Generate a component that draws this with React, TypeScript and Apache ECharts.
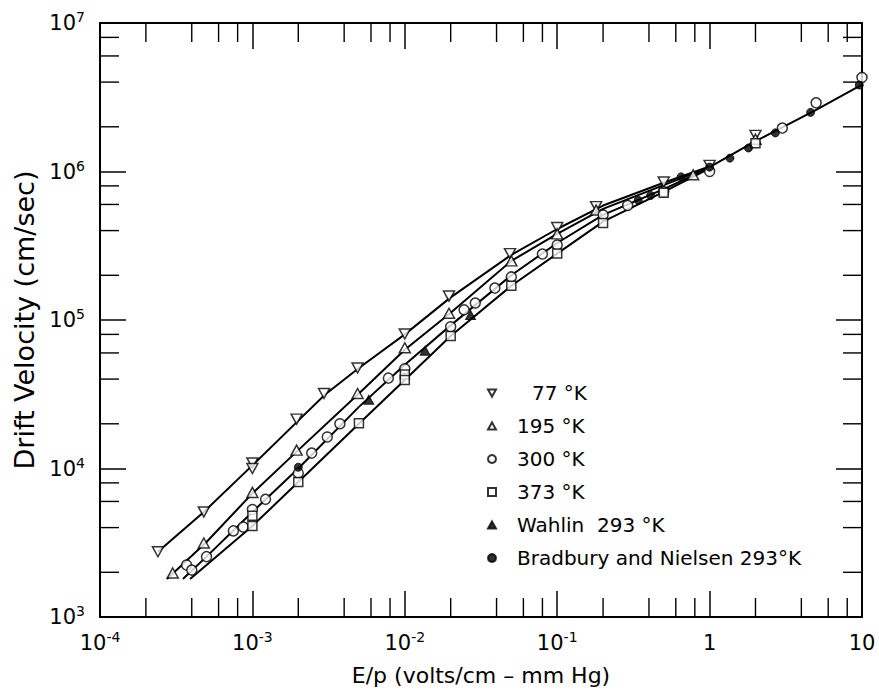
import React, { useEffect, useRef } from 'react';
import * as echarts from 'echarts';

// Axis ranges
const X_MIN = 1e-4;
const X_MAX = 10;
const Y_MIN = 1e3;
const Y_MAX = 1e7;
const xMinorDecades = [-4, -3, -2, -1, 0];
const yMinorDecades = [3, 4, 5, 6];
const minorMantissas = [2, 4, 6, 8];

// Legend / series names
const names = ['77 °K', '195 °K', '300 °K', '373 °K', 'Wahlin  293 °K', 'Bradbury and Nielsen 293°K'];

// Measured points [E/p, drift velocity]
const pts77 = [
  [2.4e-4, 2.75e3], [4.8e-4, 5.1e3], [1e-3, 1.09e4], [1e-3, 1.0e4], [1.95e-3, 2.15e4],
  [2.95e-3, 3.2e4], [4.9e-3, 4.75e4], [1e-2, 8.05e4], [1.95e-2, 1.45e5], [4.9e-2, 2.8e5],
  [0.1, 4.2e5], [0.18, 5.8e5], [0.5, 8.5e5], [1, 1.1e6], [2, 1.75e6],
];
const pts195 = [
  [3e-4, 1.98e3], [4.8e-4, 3.15e3], [1e-3, 6.9e3], [1.95e-3, 1.33e4], [4.9e-3, 3.2e4],
  [1e-2, 6.5e4], [1.95e-2, 1.11e5], [5e-2, 2.5e5], [0.1, 3.8e5], [0.18, 5.5e5],
  [0.78, 9.5e5], [2, 1.65e6],
];
const pts300 = [
  [3.7e-4, 2.24e3], [4e-4, 2.07e3], [5e-4, 2.55e3], [7.5e-4, 3.8e3], [8.7e-4, 4.04e3],
  [1e-3, 5.3e3], [1.22e-3, 6.2e3], [2e-3, 9.3e3], [2.45e-3, 1.27e4], [3.1e-3, 1.63e4],
  [3.75e-3, 2.0e4], [7.8e-3, 4.06e4], [1e-2, 4.7e4], [2e-2, 9.0e4], [2.45e-2, 1.17e5],
  [2.9e-2, 1.3e5], [3.9e-2, 1.64e5], [5e-2, 1.95e5], [8e-2, 2.78e5], [0.1, 3.2e5],
  [0.2, 5.1e5], [0.29, 5.9e5], [0.5, 7.3e5], [1, 1.0e6], [3, 1.96e6], [5, 2.9e6], [10, 4.3e6],
];
const pts373 = [
  [1e-3, 4.8e3], [1e-3, 4.1e3], [2e-3, 8.1e3], [5e-3, 2.02e4], [1e-2, 4.3e4], [1e-2, 3.95e4],
  [2e-2, 7.8e4], [5e-2, 1.7e5], [0.1, 2.8e5], [0.2, 4.5e5], [0.5, 7.2e5], [2, 1.55e6],
];
const ptsWahlin = [
  [5.8e-3, 2.9e4], [1.36e-2, 6.2e4], [2.7e-2, 1.08e5],
];
const ptsBradbury = [
  [2e-3, 1.02e4], [0.34, 6.4e5], [0.41, 6.9e5], [0.65, 9.2e5], [1, 1.07e6], [1.36, 1.23e6],
  [1.8, 1.44e6], [2.7, 1.82e6], [4.6, 2.5e6], [9.6, 3.82e6],
];

// Drawn curves through the data
const curve77 = [
  [2.4e-4, 2.75e3], [4.8e-4, 5.1e3], [1e-3, 1.05e4], [2e-3, 2.1e4], [3e-3, 3.15e4], [5e-3, 4.75e4],
  [1e-2, 8.0e4], [2e-2, 1.42e5], [5e-2, 2.75e5], [0.1, 4.1e5], [0.2, 5.9e5], [0.5, 8.4e5], [1, 1.08e6],
];
const curve195 = [
  [2.75e-4, 1.8e3], [5e-4, 3.2e3], [1e-3, 6.8e3], [2e-3, 1.33e4], [5e-3, 3.2e4], [1e-2, 6.3e4],
  [2e-2, 1.12e5], [5e-2, 2.5e5], [0.1, 3.8e5], [0.2, 5.6e5], [0.5, 8.1e5], [1, 1.07e6],
];
const curve300 = [
  [3.5e-4, 1.8e3], [5e-4, 2.55e3], [1e-3, 5.1e3], [2e-3, 1.0e4], [5e-3, 2.6e4], [1e-2, 5.0e4],
  [2e-2, 9.2e4], [5e-2, 2.0e5], [0.1, 3.3e5], [0.2, 5.1e5], [0.5, 7.6e5], [1, 1.06e6],
];
const curve373 = [
  [3.9e-4, 1.8e3], [1e-3, 4.1e3], [2e-3, 8.1e3], [5e-3, 2.0e4], [1e-2, 3.95e4], [2e-2, 7.8e4],
  [5e-2, 1.7e5], [0.1, 2.8e5], [0.2, 4.6e5], [0.5, 7.3e5], [1, 1.05e6],
];
const curveHigh = [
  [1, 1.07e6], [2, 1.6e6], [5, 2.6e6], [10, 3.85e6],
];

const FONT = 'DejaVu Sans';
const INK = '#000';
const MAJOR_LEN = 26;
const MINOR_LEN = 19;

const downTri = 'path://M0,0 L10,0 L5,9 Z';
const upTri = 'path://M5,0 L10,9 L0,9 Z';

function powLabel(v: number) {
  const e = Math.round(Math.log10(v));
  if (e === 0) return '{b|1}';
  if (e === 1) return '{b|10}';
  return `{b|10}{s|${e}}`;
}

const labelRich = {
  b: { fontSize: 21, lineHeight: 26, fontFamily: FONT, color: INK },
  s: { fontSize: 14, lineHeight: 16, verticalAlign: 'top', fontFamily: FONT, color: INK },
};

function axisBase() {
  return {
    type: 'log',
    logBase: 10,
    axisLine: { show: true, lineStyle: { color: INK, width: 2 } },
    axisTick: { show: true, inside: true, length: MAJOR_LEN, lineStyle: { color: INK, width: 1.5 } },
    splitLine: { show: false },
    minorTick: { show: false },
  };
}

export default function App() {
  const ref = useRef<HTMLDivElement>(null);
  useEffect(() => {
    const chart = echarts.init(ref.current!, null, { renderer: 'svg' });

    const minorX: number[] = [];
    xMinorDecades.forEach((d) => minorMantissas.forEach((m) => minorX.push(m * Math.pow(10, d))));
    const minorY: number[] = [];
    yMinorDecades.forEach((d) => minorMantissas.forEach((m) => minorY.push(m * Math.pow(10, d))));

    const openStyle = { color: '#fff', borderColor: INK, borderWidth: 1.5 };
    const filledStyle = { color: INK, borderColor: INK, borderWidth: 1 };

    const lineSeries = (data: number[][]) => ({
      type: 'line',
      data,
      symbol: 'none',
      showSymbol: false,
      silent: true,
      z: 3,
      lineStyle: { color: INK, width: 2 },
    });

    const option: any = {
      animation: false,
      backgroundColor: '#fff',
      grid: { left: 100, right: 17, top: 23, bottom: 79, containLabel: false },
      legend: {
        show: true,
        orient: 'vertical',
        left: 482,
        top: 378,
        itemWidth: 8,
        itemHeight: 8,
        itemGap: 13,
        data: names,
        selectedMode: false,
        formatter: (name: string) => (name === '77 °K' ? `{a|${name}}` : `{t|${name}}`),
        textStyle: {
          fontFamily: FONT,
          fontSize: 20,
          color: INK,
          lineHeight: 20,
          rich: {
            a: { fontFamily: FONT, fontSize: 20, color: INK, padding: [0, 0, 0, 31], lineHeight: 20 },
            t: { fontFamily: FONT, fontSize: 20, color: INK, padding: [0, 0, 0, 16], lineHeight: 20 },
          },
        },
      },
      xAxis: [
        {
          ...axisBase(),
          position: 'bottom',
          min: X_MIN,
          max: X_MAX,
          name: 'E/p (volts/cm – mm Hg)',
          nameLocation: 'middle',
          nameGap: 47,
          nameTextStyle: { fontFamily: FONT, fontSize: 22, color: INK },
          axisLabel: {
            show: true,
            margin: 13,
            formatter: powLabel,
            rich: labelRich,
            showMinLabel: true,
            showMaxLabel: true,
          },
        },
        {
          ...axisBase(),
          position: 'top',
          min: X_MIN,
          max: X_MAX,
          axisLabel: { show: false },
        },
      ],
      yAxis: [
        {
          ...axisBase(),
          position: 'left',
          min: Y_MIN,
          max: Y_MAX,
          name: 'Drift Velocity (cm/sec)',
          nameLocation: 'middle',
          nameGap: 57,
          nameTextStyle: { fontFamily: FONT, fontSize: 27, color: INK },
          axisLabel: {
            show: true,
            margin: 15,
            formatter: powLabel,
            rich: labelRich,
            showMinLabel: true,
            showMaxLabel: true,
          },
        },
        {
          ...axisBase(),
          position: 'right',
          min: Y_MIN,
          max: Y_MAX,
          axisLabel: { show: false },
        },
      ],
      series: [
        lineSeries(curve77),
        lineSeries(curve195),
        lineSeries(curve300),
        lineSeries(curve373),
        lineSeries(curveHigh),
        {
          name: names[0], type: 'scatter', data: pts77, symbol: downTri, symbolSize: [11, 10],
          itemStyle: openStyle, z: 5, silent: true,
        },
        {
          name: names[1], type: 'scatter', data: pts195, symbol: upTri, symbolSize: [11, 10],
          itemStyle: openStyle, z: 5, silent: true,
        },
        {
          name: names[2], type: 'scatter', data: pts300, symbol: 'circle', symbolSize: 10,
          itemStyle: openStyle, z: 5, silent: true,
        },
        {
          name: names[3], type: 'scatter', data: pts373, symbol: 'rect', symbolSize: 9,
          itemStyle: openStyle, z: 5, silent: true,
        },
        {
          name: names[4], type: 'scatter', data: ptsWahlin, symbol: upTri, symbolSize: [10, 9],
          itemStyle: filledStyle, z: 6, silent: true,
        },
        {
          name: names[5], type: 'scatter', data: ptsBradbury, symbol: 'circle', symbolSize: 8,
          itemStyle: filledStyle, z: 6, silent: true,
        },
        {
          type: 'custom',
          silent: true,
          z: 7,
          clip: false,
          data: minorX.map((v) => [v, Y_MIN]),
          renderItem: (params: any, api: any) => {
            const v = api.value(0);
            const b = api.coord([v, Y_MIN]);
            const t = api.coord([v, Y_MAX]);
            const st = { stroke: INK, lineWidth: 1.4 };
            return {
              type: 'group',
              children: [
                { type: 'line', shape: { x1: b[0], y1: b[1], x2: b[0], y2: b[1] - MINOR_LEN }, style: st },
                { type: 'line', shape: { x1: t[0], y1: t[1], x2: t[0], y2: t[1] + MINOR_LEN }, style: st },
              ],
            };
          },
        },
        {
          type: 'custom',
          silent: true,
          z: 7,
          clip: false,
          data: minorY.map((v) => [X_MIN, v]),
          renderItem: (params: any, api: any) => {
            const v = api.value(1);
            const l = api.coord([X_MIN, v]);
            const r = api.coord([X_MAX, v]);
            const st = { stroke: INK, lineWidth: 1.4 };
            return {
              type: 'group',
              children: [
                { type: 'line', shape: { x1: l[0], y1: l[1], x2: l[0] + MINOR_LEN, y2: l[1] }, style: st },
                { type: 'line', shape: { x1: r[0], y1: r[1], x2: r[0] - MINOR_LEN, y2: r[1] }, style: st },
              ],
            };
          },
        },
      ],
    };

    chart.setOption(option);
    return () => chart.dispose();
  }, []);

  return (
    <div
      ref={ref}
      style={{ position: 'absolute', left: 0, top: 0, width: 879, height: 696, background: '#fff' }}
    />
  );
}
